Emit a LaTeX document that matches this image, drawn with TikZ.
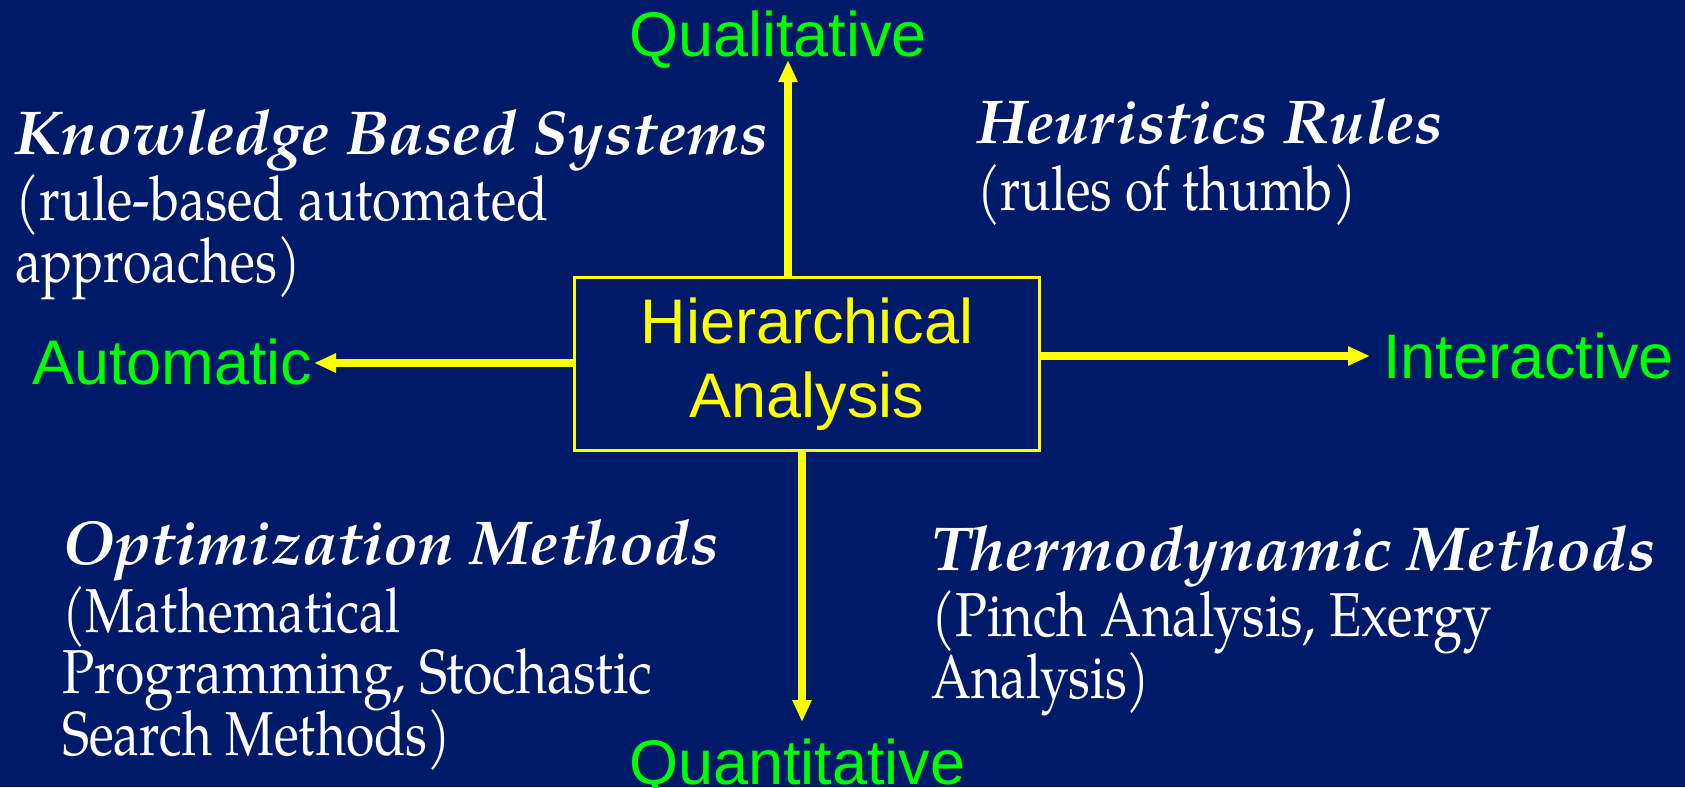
\documentclass[tikz,border=0pt]{standalone}
\usepackage{fontspec}
\usepackage{graphicx}
\usetikzlibrary{arrows.meta}
\setmainfont{Liberation Sans}
\newfontfamily\pal{texgyrepagella}[Extension=.otf, UprightFont=*-regular, BoldFont=*-bold, ItalicFont=*-italic, BoldItalicFont=*-bolditalic]
\definecolor{bgblue}{RGB}{0,26,106}
\definecolor{axgreen}{RGB}{0,255,0}
\definecolor{axyellow}{RGB}{255,255,0}
\tikzset{
  axislabel/.style={font=\fontsize{63}{74}\selectfont, text=axgreen, inner sep=0pt, anchor=base west},
  headline/.style={font=\pal\bfseries\itshape\fontsize{62}{64}\selectfont, text=white, inner sep=0pt, anchor=base west},
  subline/.style={font=\pal\fontsize{62}{64}\selectfont, text=white, inner sep=0pt, anchor=base west},
  axisarrow/.style={draw=axyellow, line width=8pt, -{Triangle[length=22pt,width=18pt]}},
  centerbox/.style={draw=axyellow, line width=3pt, text=axyellow, align=center,
    font=\fontsize{63}{74}\selectfont, minimum width=465pt, minimum height=173pt, inner sep=0pt}
}
\begin{document}
\begin{tikzpicture}[x=1pt,y=-1pt]
\fill[bgblue] (0,0) rectangle (1685,787);
\useasboundingbox (0,0) rectangle (1685,787);

% central box
\node[centerbox] (box) at (807,364) {Hierarchical\\Analysis};

% axis tips
\coordinate (qtip) at (788,60);
\coordinate (ntip) at (802,722);
\coordinate (atip) at (314,363);
\coordinate (itip) at (1370,356);

\draw[axisarrow] (qtip |- box.north) -- (qtip);
\draw[axisarrow] (ntip |- box.south) -- (ntip);
\draw[axisarrow] (atip -| box.west) -- (atip);
\draw[axisarrow] (itip -| box.east) -- (itip);

% axis labels
\node[axislabel] (qual) at (629,56) {Qualitative};
\node[axislabel] (quant) at (629,784) {Quantitative};
\node[axislabel] (auto) at (32,384) {Automatic};
\node[axislabel] (inter) at (1383,378) {Interactive};

% quadrant texts
\node[headline] (kb1) at (15,154) {\resizebox{753pt}{\height}{Knowledge Based Systems}};
\node[subline] (kb2) at (15,220) {\resizebox{533pt}{\height}{(rule-based automated}};
\node[subline] (kb3) at (15,282) {\resizebox{286pt}{\height}{approaches)}};

\node[headline] (hr1) at (977,143) {\resizebox{465pt}{\height}{Heuristics Rules}};
\node[subline] (hr2) at (977,210) {\resizebox{379pt}{\height}{(rules of thumb)}};

\node[headline] (om1) at (62,564) {\resizebox{656pt}{\height}{Optimization Methods}};
\node[subline] (om2) at (62,632) {\resizebox{338pt}{\height}{(Mathematical}};
\node[subline] (om3) at (62,693) {\resizebox{590pt}{\height}{Programming, Stochastic}};
\node[subline] (om4) at (62,755) {\resizebox{389pt}{\height}{Search Methods)}};

\node[headline] (tm1) at (931,570) {\resizebox{724pt}{\height}{Thermodynamic Methods}};
\node[subline] (tm2) at (931,636) {\resizebox{561pt}{\height}{(Pinch Analysis, Exergy}};
\node[subline] (tm3) at (931,698) {\resizebox{219pt}{\height}{Analysis)}};
\end{tikzpicture}
\end{document}
